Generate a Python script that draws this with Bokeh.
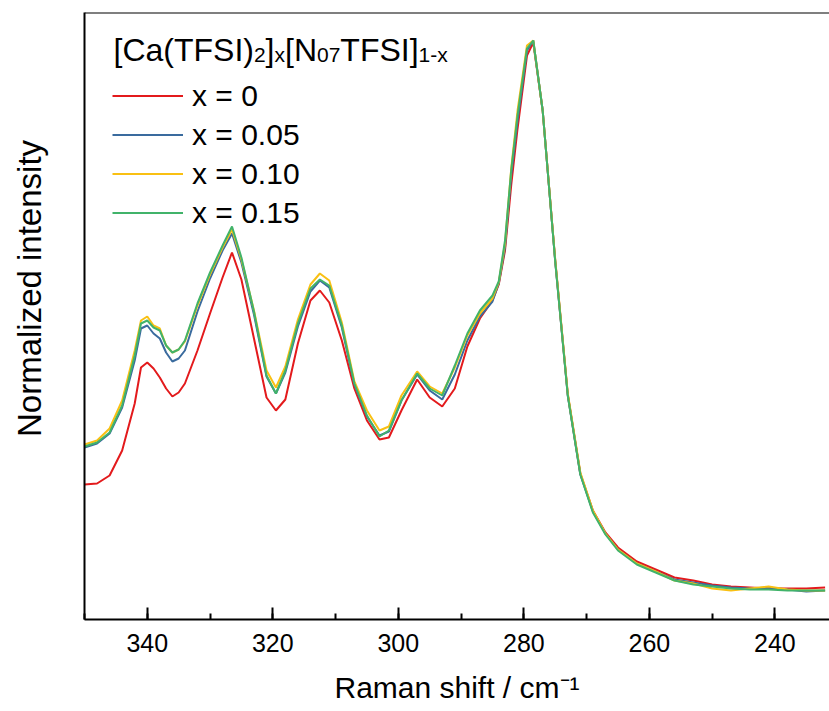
from bokeh.plotting import figure
from bokeh.models import (Range1d, SingleIntervalTicker, FixedTicker, Legend,
                          LegendItem, Label, Span)
from bokeh.embed import file_html
from bokeh.resources import INLINE

# Raman shift (cm-1)
shift = [350, 348, 346, 344, 342, 341, 340, 339, 338, 337, 336, 335, 334, 332, 330,
         328, 326.5, 325, 323, 321, 319.5, 318, 316, 314, 312.5, 311, 309, 307, 305, 303,
         301.5, 299.5, 297, 295, 293, 291, 289, 287, 285, 284, 283, 282, 281, 279.5, 278.5,
         277, 275, 273, 271, 269, 267, 265, 262, 259, 256, 253, 250, 247, 244, 241,
         238, 235, 232]

# Normalized intensity (arbitrary units)
x_0 = [135, 136, 144, 169, 216, 252, 257, 251, 242, 231, 223, 227, 236, 269, 306,
       342, 367, 340, 281, 222, 209, 220, 276, 319, 329, 317, 279, 231, 199, 180,
       182, 209, 240, 222, 213, 231, 273, 301, 319, 335, 369, 435, 491, 564, 577,
       509, 359, 225, 146, 109, 87, 72, 58, 50, 42, 39, 35, 33, 32, 31,
       31, 31, 32]
x_005 = [172, 176, 186, 212, 259, 291, 294, 286, 281, 267, 258, 261, 269, 308, 341,
         369, 386, 357, 305, 243, 226, 247, 293, 328, 339, 332, 292, 235, 203, 184,
         188, 219, 245, 229, 220, 245, 279, 303, 318, 336, 372, 445, 499, 569, 579,
         509, 358, 224, 145, 108, 86, 70, 56, 48, 40, 37, 34, 32, 31, 32,
         30, 28, 29]
x_010 = [175, 179, 191, 219, 269, 299, 303, 294, 291, 274, 267, 270, 278, 314, 345,
         372, 390, 360, 309, 249, 232, 253, 300, 335, 346, 339, 297, 238, 209, 189,
         193, 224, 248, 233, 226, 252, 284, 306, 321, 337, 376, 452, 509, 574, 579,
         509, 360, 226, 147, 109, 86, 70, 56, 48, 39, 36, 31, 29, 31, 33,
         30, 29, 29]
x_015 = [173, 177, 187, 214, 264, 296, 299, 292, 289, 274, 267, 270, 279, 316, 347,
         374, 393, 362, 308, 244, 226, 249, 296, 331, 340, 334, 294, 236, 204, 183,
         189, 219, 246, 231, 224, 254, 286, 309, 324, 338, 379, 450, 504, 571, 579,
         509, 358, 224, 145, 107, 85, 69, 55, 47, 39, 35, 33, 31, 30, 30,
         29, 29, 29]

series = [("x = 0", x_0, "#E31A1C"),
          ("x = 0.05", x_005, "#3A6B9E"),
          ("x = 0.10", x_010, "#F9C013"),
          ("x = 0.15", x_015, "#41B36A")]

FONT = "Liberation Sans"

p = figure(width=829, height=711, output_backend="svg", toolbar_location=None,
           x_range=Range1d(350, 231.3), y_range=Range1d(0, 607),
           min_border_left=84, min_border_right=0, min_border_top=12,
           min_border_bottom=92)
p.xgrid.visible = False
p.ygrid.visible = False
p.outline_line_color = None
p.background_fill_color = "white"

items = []
for name, ys, col in series:
    r = p.line(shift, ys, line_color=col, line_width=2)
    items.append(LegendItem(label=name, renderers=[r]))

# top frame line
p.add_layout(Span(location=607, dimension="width", line_color="black", line_width=2))

xa = p.xaxis[0]
xa.ticker = SingleIntervalTicker(interval=20, num_minor_ticks=2)
xa.major_tick_in = 12
xa.major_tick_out = 0
xa.minor_tick_in = 6
xa.minor_tick_out = 0
xa.axis_line_width = 2
xa.major_tick_line_width = 2
xa.minor_tick_line_width = 2
xa.major_label_text_font = FONT
xa.major_label_text_font_size = "25px"
xa.major_label_text_color = "black"
xa.major_label_standoff = 14
xa.axis_label = "Raman shift / cm\u207b\u00b9"
xa.axis_label_text_font = FONT
xa.axis_label_text_font_size = "30px"
xa.axis_label_text_font_style = "normal"
xa.axis_label_text_color = "black"
xa.axis_label_standoff = 16

ya = p.yaxis[0]
ya.ticker = FixedTicker(ticks=[])
ya.major_tick_in = 0
ya.major_tick_out = 0
ya.minor_tick_in = 0
ya.minor_tick_out = 0
ya.major_label_text_font_size = "0px"
ya.axis_line_width = 2
# leading no-break spaces move the centred title up a little, as in the original
ya.axis_label = "\u00a0" * 6 + "Normalized intensity"
ya.axis_label_text_font = FONT
ya.axis_label_text_font_size = "33px"
ya.axis_label_text_font_style = "normal"
ya.axis_label_text_color = "black"
ya.axis_label_standoff = 37

legend = Legend(items=items, location=(28, 387))
legend.label_text_font = FONT
legend.label_text_font_size = "30px"
legend.label_text_color = "black"
legend.glyph_width = 71
legend.glyph_height = 39
legend.label_height = 39
legend.label_standoff = 9
legend.spacing = 0
legend.padding = 0
legend.margin = 0
legend.border_line_color = None
legend.background_fill_alpha = 0
p.add_layout(legend)

W = {"[": .278, "]": .278, "C": .722, "a": .556, "(": .333, ")": .333, "T": .611,
     "F": .611, "S": .667, "I": .278, "N": .722, "x": .5, "-": .333, "0": .556,
     "1": .556, "2": .556, "7": .556}


def tw(txt, size):
    return sum(W[c] for c in txt) * size


# legend title with subscripts
pieces = [("[Ca(TFSI)", False), ("2", True), ("]", False), ("x", True),
          ("[N", False), ("07", True), ("TFSI]", False), ("1-x", True)]
main_size, sub_size = 32, 21
cx = 29
for txt, sub in pieces:
    size = sub_size if sub else main_size
    p.add_layout(Label(x=cx, y=(565 if sub else 570), x_units="screen", y_units="screen",
                       text=txt, text_font=FONT, text_font_size=f"{size}px",
                       text_color="black", text_baseline="alphabetic", text_align="left"))
    cx += tw(txt, size)

open("out.html", "w").write(file_html(p, INLINE))
